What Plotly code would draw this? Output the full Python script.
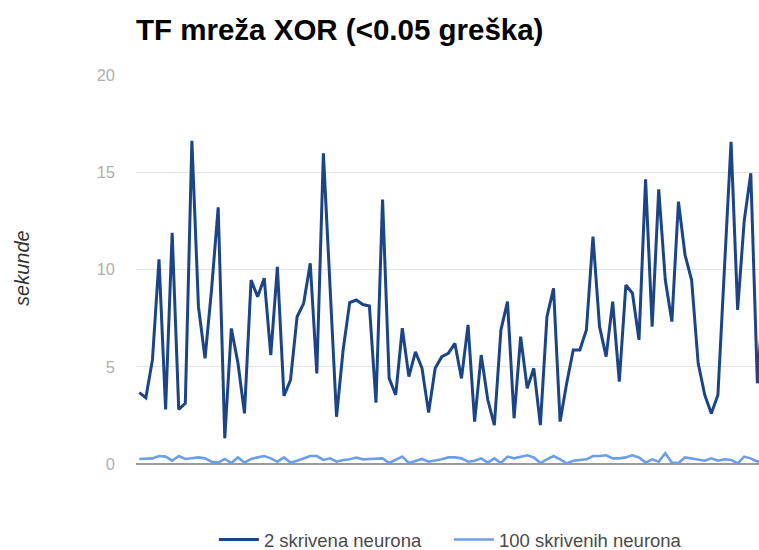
import plotly.graph_objects as go

runs = list(range(1, 97))

dva_neurona = [3.67, 3.41, 5.35, 10.52, 2.81, 11.89, 2.81, 3.12, 16.62, 8.09,
               5.43, 9.0, 13.2, 1.32, 6.97, 5.2, 2.6, 9.46, 8.6, 9.55,
               5.6, 10.14, 3.5, 4.32, 7.57, 8.26, 10.32, 4.66, 15.97, 9.0,
               2.43, 5.86, 8.3, 8.43, 8.2, 8.12, 3.15, 13.6, 4.4, 3.55,
               6.98, 4.49, 5.77, 4.92, 2.64, 4.92, 5.52, 5.69, 6.2, 4.4,
               7.15, 2.18, 5.6, 3.3, 2.0, 6.89, 8.35, 2.35, 6.55, 3.89,
               4.92, 2.0, 7.57, 9.03, 2.18, 4.15, 5.86, 5.86, 6.89, 11.69,
               7.06, 5.52, 8.35, 4.23, 9.2, 8.78, 6.38, 14.64, 7.06, 14.12,
               9.46, 7.32, 13.49, 10.75, 9.46, 5.18, 3.55, 2.6, 3.55, 10.1,
               16.57, 7.92, 12.5, 14.95, 4.15, 9.0]

sto_neurona = [0.26, 0.26, 0.29, 0.41, 0.38, 0.17, 0.41, 0.26, 0.29, 0.34,
               0.29, 0.12, 0.07, 0.26, 0.05, 0.34, 0.07, 0.26, 0.34, 0.41,
               0.29, 0.12, 0.34,
               0.07, 0.17, 0.29, 0.41, 0.41, 0.21, 0.29, 0.12, 0.21, 0.24,
               0.33, 0.24, 0.26, 0.29, 0.29, 0.05, 0.21, 0.38, 0.05, 0.17,
               0.26, 0.12, 0.17, 0.24,
               0.34, 0.34, 0.29, 0.12, 0.17, 0.29, 0.07, 0.29, 0.05, 0.38,
               0.29, 0.38, 0.45, 0.34, 0.05, 0.24, 0.41, 0.24, 0.03, 0.17,
               0.21, 0.24, 0.41,
               0.41, 0.45, 0.29, 0.29, 0.34, 0.45, 0.34, 0.07, 0.24, 0.12,
               0.55, 0.07, 0.05, 0.34, 0.29, 0.24, 0.17, 0.29, 0.17, 0.24,
               0.21, 0.03, 0.38, 0.29, 0.12,
               0.25]

y_ticks = [0, 5, 10, 15, 20]

fig = go.Figure()
fig.add_trace(go.Scatter(x=runs, y=dva_neurona, mode="lines",
                         name="2 skrivena neurona",
                         line=dict(color="#1c4587", width=3)))
fig.add_trace(go.Scatter(x=runs, y=sto_neurona, mode="lines",
                         name="100 skrivenih neurona",
                         line=dict(color="#6d9eeb", width=2.6)))

fig.update_layout(
    width=759, height=550,
    margin=dict(l=136, r=0, t=75, b=86, autoexpand=False),
    paper_bgcolor="white", plot_bgcolor="white",
    font=dict(family="Liberation Sans, Arial, sans-serif"),
    title=dict(text="<b>TF mreža XOR (&lt;0.05 greška)</b>",
               xref="container", x=136/759, xanchor="left",
               yref="container", y=1 - 30/550, yanchor="middle",
               font=dict(size=29.5, color="#000000")),
    showlegend=True,
    legend=dict(orientation="h", x=0.125, xanchor="left",
                yref="container", y=1 - 540/550, yanchor="middle",
                font=dict(size=18.5, color="#4a4a4a"), bgcolor="rgba(0,0,0,0)",
                itemwidth=40, tracegroupgap=0, entrywidth=180),
    xaxis=dict(range=[0.5, 95.25], showgrid=False, showticklabels=False,
               zeroline=False, showline=False, ticks=""),
    yaxis=dict(range=[0, 20], tickvals=y_ticks, showgrid=True,
               gridcolor="#e3e3e3", gridwidth=1,
               zeroline=True, zerolinecolor="#9a9a9a", zerolinewidth=2,
               showline=False, ticks="", ticklabelstandoff=20,
               tickfont=dict(size=16.5, color="#b0b0b0")),
    annotations=[dict(text="<i>sekunde</i>", xref="paper", yref="paper",
                      x=(22 - 136) / 623, y=0.504, xanchor="center", yanchor="middle",
                      textangle=-90, showarrow=False,
                      font=dict(size=20, color="#333333"))],
)

fig.write_html("out.html", config={"displayModeBar": False},
               post_script="document.body.style.margin='0';document.body.style.overflow='hidden';")
